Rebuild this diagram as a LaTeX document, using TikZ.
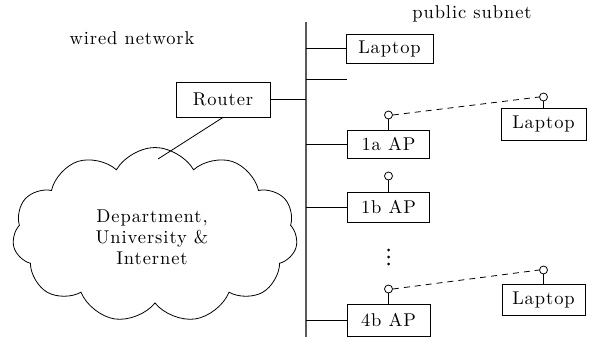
\documentclass[tikz,border=0pt]{standalone}
\usepackage{fontspec}
\usetikzlibrary{shapes.symbols}
\newfontfamily\diaff{lmroman10-regular.otf}[LetterSpace=5]
\newcommand{\diafont}{\diaff\fontsize{18.5}{21}\selectfont}
\begin{document}
\begin{tikzpicture}[x=1pt,y=-1pt,line width=0.8pt,
  box/.style={draw, inner sep=0pt, font=\diafont},
  ant/.style={circle, draw, inner sep=0pt, minimum size=8pt},
  lbl/.style={inner sep=0pt, font=\diafont},
  bus/.style={line width=1.3pt, draw=black!65},
  wl/.style={dashed, dash pattern=on 6pt off 5pt}]
\useasboundingbox (0,0) rectangle (597,345);
% cloud
\node[cloud, draw, cloud puffs=11, cloud puff arc=120, aspect=1.6,
      minimum width=285pt, minimum height=175pt, inner sep=0pt] (cloud) at (155,235) {};
\node[lbl, align=center] (cloudtxt) at (152,237) {Department,\\University \&\\Internet};
% labels
\node[lbl] (wired) at (132,38) {wired network};
\node[lbl] (pub) at (472,14) {public subnet};
% bus
\coordinate (bustop) at (306,22);
\coordinate (busbot) at (306,337);
\draw[bus] (bustop) -- (busbot);
% router
\node[box, minimum width=94pt, minimum height=35pt] (router) at (223,99.5) {Router};
\coordinate (cloudtop) at (158,159);
\draw (router.south) -- (cloudtop);
\draw (router.east) -- (router.east -| bustop);
% top laptop
\node[box, minimum width=87pt, minimum height=29pt] (lap1) at (389.5,48.5) {Laptop};
\draw (lap1.west) -- (lap1.west -| bustop);
% stub
\coordinate (stub) at (347,79);
\draw (stub -| bustop) -- (stub);
% APs
\node[box, minimum width=82pt, minimum height=28pt] (ap1a) at (388.5,144) {1a AP};
\node[box, minimum width=82pt, minimum height=30pt] (ap1b) at (388.5,207) {1b AP};
\node[box, minimum width=83pt, minimum height=32pt] (ap4b) at (388.5,320) {4b AP};
\foreach \n in {ap1a,ap1b,ap4b} \draw (\n.west) -- (\n.west -| bustop);
\node[ant] (c1a) at (388.5,115) {};
\node[ant] (c1b) at (388.5,176) {};
\node[ant] (c4b) at (388.5,289) {};
\draw (c1a.south) -- (ap1a.north);
\draw (c1b.south) -- (ap1b.north);
\draw (c4b.south) -- (ap4b.north);
% dots
\node[circle, fill, inner sep=0pt, minimum size=3pt] (d1) at (388.5,250) {};
\node[circle, fill, inner sep=0pt, minimum size=3pt] (d2) at (388.5,257) {};
\node[circle, fill, inner sep=0pt, minimum size=3pt] (d3) at (388.5,264) {};
% right laptops
\node[box, minimum width=85pt, minimum height=32pt] (lap2) at (543.5,124) {Laptop};
\node[ant] (cl2) at (543.5,97) {};
\draw (cl2.south) -- (lap2.north);
\draw[wl] (c1a.east) -- (cl2.west);
\node[box, minimum width=83pt, minimum height=31pt] (lap3) at (543.5,299.5) {Laptop};
\node[ant] (cl3) at (543.5,270) {};
\draw (cl3.south) -- (lap3.north);
\draw[wl] (c4b.east) -- (cl3.west);
\end{tikzpicture}
\end{document}
